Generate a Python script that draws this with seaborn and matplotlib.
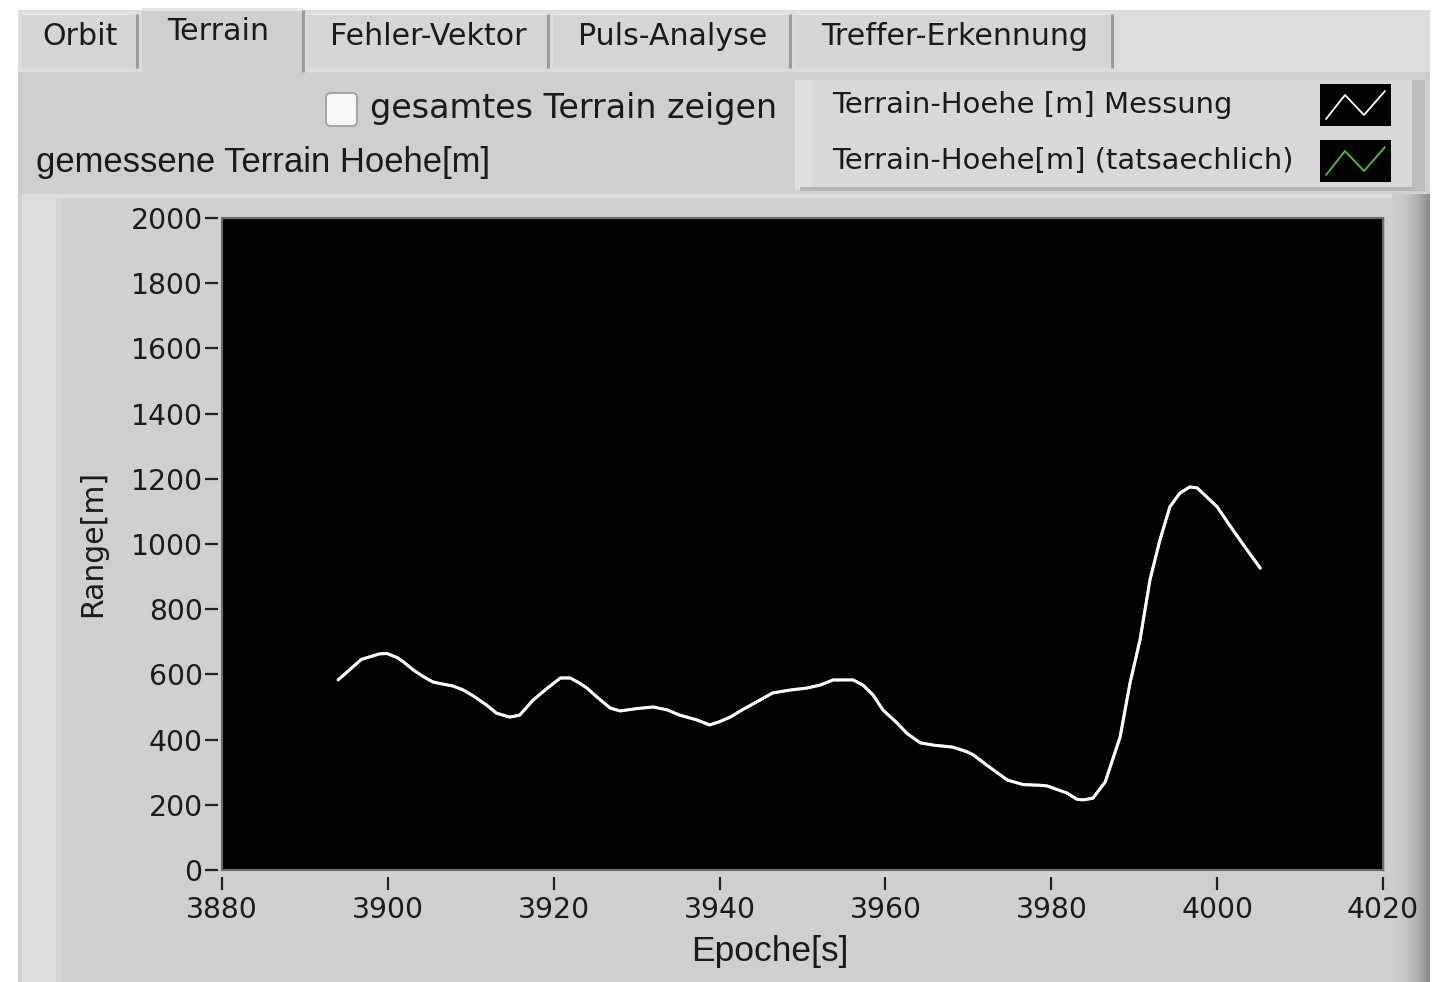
import numpy as np
import pandas as pd
import matplotlib
matplotlib.use("Agg")
import matplotlib.pyplot as plt
from matplotlib.patches import Rectangle, FancyBboxPatch
import seaborn as sns

# Terrain height over epoch
epoche = [3894.0, 3896.8, 3899.0, 3899.9, 3901.1, 3901.8, 3903.1, 3904.3, 3905.4,
          3906.3, 3907.9, 3909.1, 3910.3, 3911.9, 3913.1, 3914.7, 3915.9, 3917.5,
          3919.2, 3920.8, 3922.0, 3923.2, 3924.0, 3925.2, 3926.8, 3928.0, 3930.0,
          3932.0, 3933.7, 3935.2, 3937.3, 3938.8, 3940.0, 3941.3, 3942.5, 3944.5,
          3946.4, 3948.5, 3950.5, 3952.1, 3953.7, 3956.1, 3957.3, 3958.5, 3959.7,
          3961.4, 3962.6, 3964.2, 3965.8, 3968.1, 3969.8, 3970.6, 3972.2, 3974.7,
          3976.6, 3978.6, 3979.5, 3981.9, 3983.1, 3983.8, 3985.0, 3986.5, 3988.3,
          3989.5, 3990.7, 3991.9, 3993.1, 3994.3, 3995.5, 3996.7, 3997.6, 4000.0,
          4001.9, 4003.6, 4005.2]
hoehe_messung = [583, 646, 663, 664, 652, 640, 613, 593, 577,
                 572, 564, 552, 534, 506, 481, 469, 475, 521,
                 557, 589, 589, 572, 558, 531, 497, 488, 495,
                 500, 491, 475, 460, 445, 455, 469, 488, 516,
                 543, 552, 558, 567, 583, 583, 567, 537, 491,
                 451, 419, 390, 383, 377, 363, 353, 322, 276,
                 262, 260, 258, 236, 217, 215, 220, 270, 408,
                 574, 706, 890, 1012, 1114, 1156, 1175, 1172, 1114,
                 1043, 982, 926]
hoehe_tatsaechlich = list(hoehe_messung)

x_ticks = [3880, 3900, 3920, 3940, 3960, 3980, 4000, 4020]
y_ticks = [0, 200, 400, 600, 800, 1000, 1200, 1400, 1600, 1800, 2000]
tabs = ["Orbit", "Terrain", "Fehler-Vektor", "Puls-Analyse", "Treffer-Erkennung"]
legend_labels = ["Terrain-Hoehe [m] Messung", "Terrain-Hoehe[m] (tatsaechlich)"]

W, H = 1443, 982
sns.set_style("white")
plt.rcParams["font.family"] = ["DejaVu Sans"]

fig = plt.figure(figsize=(W / 100, H / 100), dpi=100, facecolor="white")

# ---- panel chrome drawn in pixel coordinates ----
bg = fig.add_axes([0, 0, 1, 1], zorder=0)
bg.set_xlim(0, W)
bg.set_ylim(H, 0)
bg.axis("off")

def rect(x0, y0, x1, y1, color, **kw):
    bg.add_patch(Rectangle((x0, y0), x1 - x0, y1 - y0, facecolor=color,
                           edgecolor="none", **kw))

# tab bar and main panel
rect(18, 10, 1430, 74, "#dcdcdc")
rect(18, 72, 1430, 982, "#cfcfcf")

# tabs: (x0, x1, selected)
tab_boxes = [(22, 137, False), (142, 303, True), (307, 548, False),
             (553, 790, False), (795, 1112, False)]
for (x0, x1, sel), label in zip(tab_boxes, tabs):
    if sel:
        rect(x0, 8, x1, 76, "#cfcfcf")
        rect(x0, 8, x1, 11, "#e6e6e6")
        bg.plot([x1, x1], [10, 72], color="#9a9a9a", lw=2.2, solid_capstyle="butt")
        bg.text(218, 31, label, ha="center", va="center",
                fontsize=21.6, color="#1a1a1a")
    else:
        rect(x0, 12, x1, 68, "#d5d5d5")
        rect(x0, 12, x1, 15, "#e4e4e4")
        bg.plot([x1, x1], [14, 68], color="#9a9a9a", lw=2.2, solid_capstyle="butt")
        bg.text((x0 + x1) / 2 + 1, 36, label, ha="center", va="center",
                fontsize=21.6, color="#1a1a1a")

# checkbox
bg.add_patch(FancyBboxPatch((326, 93), 31, 33, boxstyle="round,pad=0,rounding_size=5",
                            facecolor="#f7f7f7", edgecolor="#9a9a9a", lw=1.2))
bg.text(370, 108, "gesamtes Terrain zeigen", ha="left", va="center",
        fontsize=24.0, color="#1a1a1a")
bg.text(36, 162, "gemessene Terrain Hoehe[m]", ha="left", va="center",
        fontsize=24.9, color="#1a1a1a", family=["Liberation Sans"])

# legend box
rect(795, 80, 1425, 190, "#d8d8d8")
rect(795, 80, 812, 190, "#e0e0e0")
rect(800, 187, 1425, 191, "#b5b5b5")
rect(1412, 80, 1425, 190, "#bdbdbd")
legend_colors = ["white", "#3ccf1e"]
for i, (lab, col) in enumerate(zip(legend_labels, legend_colors)):
    yc = 105 + i * 56
    bg.text(832, yc, lab, ha="left", va="center", fontsize=20.9, color="#1a1a1a")
    rect(1320, yc - 21, 1391, yc + 21, "black")
    bg.plot([1326, 1345, 1364, 1385], [yc + 14, yc - 10, yc + 10, yc - 14],
            color=col, lw=1.3)

# plot frame
rect(22, 194, 1428, 982, "#cfcfcf")
rect(22, 194, 1428, 198, "#dedede")
rect(22, 198, 56, 982, "#dcdcdc")
rect(56, 198, 62, 982, "#d4d4d4")
shade = np.linspace(0, 1, 40)
for k, s in enumerate(shade):
    g = 0.80 - 0.26 * s ** 2
    rect(1392 + k * 0.95, 194, 1392 + (k + 1) * 0.95 + 0.2, 982, (g, g, g))

# ---- the graph ----
ax = fig.add_axes([222 / W, (H - 870) / H, 1161 / W, 652 / H], zorder=2)
ax.set_facecolor("black")

df = pd.DataFrame({"Epoche": epoche, "Messung": hoehe_messung,
                   "Tatsaechlich": hoehe_tatsaechlich})
sns.lineplot(data=df, x="Epoche", y="Tatsaechlich", ax=ax, color="#3ccf1e",
             lw=2.0, label=legend_labels[1], legend=False)
sns.lineplot(data=df, x="Epoche", y="Messung", ax=ax, color="white",
             lw=2.2, label=legend_labels[0], legend=False)

ax.set_xlim(3880, 4020)
ax.set_ylim(0, 2000)
ax.set_xticks(x_ticks)
ax.set_yticks(y_ticks)
ax.set_xticklabels([str(v) for v in x_ticks])
ax.set_yticklabels([str(v) for v in y_ticks])

for side in ["top", "right", "bottom", "left"]:
    ax.spines[side].set_color("#555555")
    ax.spines[side].set_linewidth(1.0)
ax.spines["bottom"].set_position(("outward", 5))
ax.spines["bottom"].set_visible(False)
ax.spines["left"].set_position(("outward", 3))
ax.spines["left"].set_visible(False)
ax.add_patch(Rectangle((0, 0), 1, 1, transform=ax.transAxes, fill=False,
                       edgecolor="#6a6a6a", lw=1.5, zorder=5, clip_on=False))

ax.tick_params(axis="x", direction="out", length=9, width=1.6, color="#222222",
               labelsize=20.3, labelcolor="#1a1a1a", pad=5, bottom=True)
ax.tick_params(axis="y", direction="out", length=9.5, width=1.6, color="#222222",
               labelsize=20.3, labelcolor="#1a1a1a", pad=1.5, left=True)

ax.set_xlabel("Epoche[s]", fontsize=25.5, color="#1a1a1a", family=["Liberation Sans"],
              va="center")
ax.xaxis.set_label_coords((770 - 222) / 1161, (870 - 952) / 652)
ax.set_ylabel("Range[m]", fontsize=21.5, color="#1a1a1a", va="center")
ax.yaxis.set_label_coords((93 - 222) / 1161, (870 - 543) / 652)

fig.savefig("out.png", dpi=100, facecolor="white")
